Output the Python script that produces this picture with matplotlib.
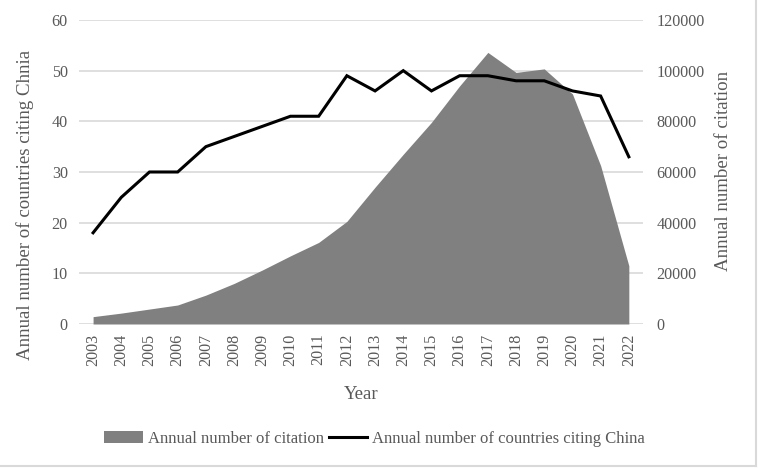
import matplotlib
matplotlib.use('Agg')
from matplotlib import pyplot as plt
from matplotlib.patches import Rectangle
from matplotlib.lines import Line2D
import numpy

years = ['2003','2004','2005','2006','2007','2008','2009','2010','2011','2012',
		'2013','2014','2015','2016','2017','2018','2019','2020','2021','2022']
countries = [18,25,30,30,35,37,39,41,41,49,46,50,46,49,49,48,48,46,45,33]
citations = [2900,4300,5900,7500,11400,16000,21300,26900,32200,40500,
		54000,67000,79600,94000,107200,99300,100700,90800,62500,23000]

plt.rcParams['font.family'] = ['Liberation Serif','DejaVu Serif']
txt = '#595959'
grid = '#d9d9d9'

fig = plt.figure(figsize=(7.58,4.68),dpi=100)
ax = fig.add_axes([0.1042,0.3077,0.744,0.6496])
ax2 = ax.twinx()
x = numpy.arange(len(years))

# area on the right axis, line on the left axis drawn above it
ax2.fill_between(x,citations,0,color='#808080',linewidth=0,zorder=1)
ax.set_zorder(ax2.get_zorder()+1)
ax.patch.set_visible(False)
ax.plot(x,countries,color='black',linewidth=2.2,solid_joinstyle='miter',zorder=3)

ax.set_xlim(-0.5,len(years)-0.5)
ax.set_ylim(0,60)
ax.set_yticks(range(0,61,10))
ax2.set_ylim(0,120000)
ax2.set_yticks(range(0,120001,20000))
for v in range(0,61,10):
	ax2.axhline(v*2000,color=grid,linewidth=1.2,zorder=0)

ax.set_xticks(x)
ax.set_xticklabels(years,rotation=90)
for a in (ax,ax2):
	for s in a.spines.values():
		s.set_visible(False)
	a.tick_params(length=0,labelsize=11.6,colors=txt)
ax.tick_params(axis='y',pad=8)
ax2.tick_params(axis='y',pad=9.5)
ax.tick_params(axis='x',pad=7)

ax.set_xlabel('Year',fontsize=13.5,color=txt,labelpad=14)
fig.text(25/758,1-205/468,'Annual number of countries citing Chnia',rotation=90,
	ha='center',va='center',fontsize=13.6,color=txt)
fig.text(723/758,1-171/468,'Annual number of citation',rotation=90,
	ha='center',va='center',fontsize=13.6,color=txt)

handles = [Rectangle((0,0),1,1,facecolor='#808080',edgecolor='none'),
	Line2D([0],[0],color='black',linewidth=2.2)]
fig.legend(handles,['Annual number of citation','Annual number of countries citing China'],
	loc='center',bbox_to_anchor=(0.494,0.063),ncol=2,frameon=False,fontsize=12,
	labelcolor=txt,handlelength=2.3,handletextpad=0.3,columnspacing=0.3)

# light frame at the right and bottom edge
fig.add_artist(Line2D([0.997,0.997],[0.004,1],transform=fig.transFigure,color='#d9d9d9',linewidth=1.5))
fig.add_artist(Line2D([0,0.997],[0.004,0.004],transform=fig.transFigure,color='#d9d9d9',linewidth=1.5))

fig.savefig('out.png',dpi=100)
